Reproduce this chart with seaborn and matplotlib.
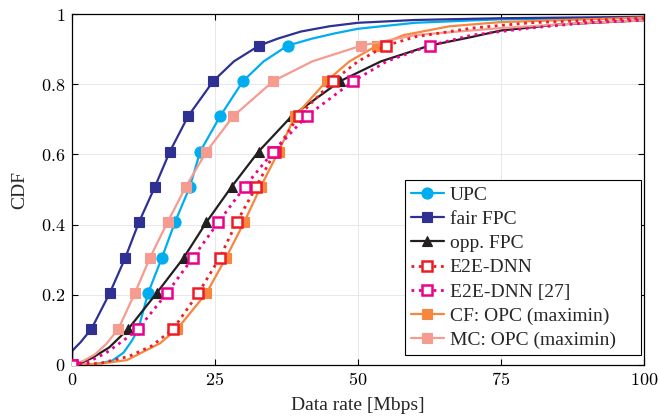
import numpy as np
import pandas as pd
import matplotlib
matplotlib.use("Agg")
import matplotlib.pyplot as plt
import seaborn as sns

sns.set_style("ticks")
plt.rcParams['font.family'] = ['Liberation Serif', 'DejaVu Serif']
plt.rcParams['mathtext.fontset'] = 'cm'

# CDF levels where markers are drawn
marker_levels = [0.0, 0.103, 0.205, 0.305, 0.407, 0.508, 0.608, 0.709, 0.809, 0.91]

# Data rate [Mbps] at marker levels
upc_x = [0, 11.6, 13.3, 15.7, 18.0, 20.6, 22.4, 25.9, 29.9, 37.7]
fair_x = [0, 3.4, 6.6, 9.3, 11.7, 14.5, 17.1, 20.3, 24.7, 32.7]
opp_x = [0, 9.85, 14.8, 19.5, 23.5, 27.9, 32.6, 38.4, 46.9, 62.5]
e2e_x = [0, 17.7, 22.1, 25.8, 28.8, 32.2, 35.5, 39.6, 45.6, 54.9]
e2e27_x = [0, 11.6, 16.6, 21.1, 25.6, 30.2, 35.2, 41.0, 49.2, 62.5]
cf_x = [0, 18.4, 23.5, 26.9, 30.1, 33.0, 36.1, 39.0, 44.5, 53.3]
mc_x = [0, 8.1, 11.0, 13.6, 16.7, 19.9, 23.5, 28.2, 35.2, 50.6]

# extra curve points (rate, CDF) between/after the markers
upc_extra = ([4, 7, 9, 10.5, 33.5, 42, 46, 50, 60, 75, 100],
             [0.002, 0.012, 0.035, 0.07, 0.865, 0.93, 0.945, 0.958, 0.975, 0.985, 0.99])
fair_extra = ([0.05, 0.6, 1.5, 2.5, 28.3, 36, 40, 45, 50, 60, 75, 100],
              [0.04, 0.05, 0.065, 0.085, 0.865, 0.93, 0.95, 0.965, 0.975, 0.983, 0.988, 0.992])
opp_extra = ([1.5, 3.5, 6.5, 54, 70, 75, 85, 100],
             [0.005, 0.02, 0.05, 0.865, 0.935, 0.953, 0.97, 0.982])
e2e_extra = ([5, 10, 14, 50, 60, 70, 80, 100],
             [0.005, 0.025, 0.055, 0.865, 0.935, 0.96, 0.975, 0.988])
e2e27_extra = ([3, 6, 9, 55, 70, 80, 90, 100],
               [0.01, 0.035, 0.07, 0.865, 0.94, 0.96, 0.975, 0.983])
cf_extra = ([5, 9.6, 15.4, 48.5, 58, 66, 75, 100],
            [0.004, 0.014, 0.062, 0.865, 0.94, 0.965, 0.977, 0.99])
mc_extra = ([2, 4, 6, 42, 60, 75, 90, 100],
            [0.012, 0.03, 0.06, 0.865, 0.94, 0.96, 0.975, 0.982])

series = [
    ("UPC", upc_x, upc_extra, "#00AEEF", "-", "o", True, 8, 2),
    ("fair FPC", fair_x, fair_extra, "#2E3192", "-", "s", True, 7.5, 2),
    ("opp. FPC", opp_x, opp_extra, "#231F20", "-", "^", True, 7.5, 2),
    ("E2E-DNN", e2e_x, e2e_extra, "#ED1C24", ":", "s", False, 7, 4),
    ("E2E-DNN [27]", e2e27_x, e2e27_extra, "#EC008C", ":", "s", False, 7, 4),
    ("CF: OPC (maximin)", cf_x, cf_extra, "#F7863E", "-", "s", True, 7.5, 3),
    ("MC: OPC (maximin)", mc_x, mc_extra, "#F69B90", "-", "s", True, 7.5, 3),
]

fig = plt.figure(figsize=(6.59, 4.18), dpi=100)
ax = fig.add_axes([0.1093, 0.1268, 0.8680, 0.8397])

for name, mx, extra, col, ls, mk, filled, ms, z in series:
    pts = [(x, y, True) for x, y in zip(mx, marker_levels)]
    pts += [(x, y, False) for x, y in zip(extra[0], extra[1])]
    pts.sort(key=lambda p: (p[1], p[0]))
    df = pd.DataFrame({"x": [p[0] for p in pts], "y": [p[1] for p in pts]})
    idx = [i for i, p in enumerate(pts) if p[2]]
    sns.lineplot(data=df, x="x", y="y", ax=ax, sort=False, estimator=None,
                 color=col, linestyle=ls, linewidth=1.6 if ls == "-" else 2.0,
                 marker=mk, markevery=idx, markersize=ms,
                 mfc=col if filled else "white", mec=col,
                 mew=0.8 if filled else 1.8, label=name, zorder=z)

ax.set_xlim(0, 100)
ax.set_ylim(0, 1)
xt = [0, 25, 50, 75, 100]
yt = [0, 0.2, 0.4, 0.6, 0.8, 1]
ax.set_xticks(xt)
ax.set_xticklabels([f"${v}$" for v in xt])
ax.set_yticks(yt)
ax.set_yticklabels(["$0$", "$0.2$", "$0.4$", "$0.6$", "$0.8$", "$1$"])
ax.grid(True, color="#e8e8e8", linewidth=0.7)
ax.set_axisbelow(True)
ax.tick_params(direction="in", top=True, right=True, length=4, width=0.8,
               labelsize=13, colors="black", pad=5)
for s in ax.spines.values():
    s.set_visible(True)
    s.set_color("black")
    s.set_linewidth(0.9)
ax.set_xlabel("Data rate [Mbps]", fontsize=14, labelpad=6)
ax.set_ylabel("CDF", fontsize=14, labelpad=9)

leg = ax.legend(loc="lower left", bbox_to_anchor=(0.582, 0.0285, 0.4126, 0.0),
                mode="expand", fontsize=14,
                fancybox=False, framealpha=1, edgecolor="black",
                handlelength=1.7, handletextpad=0.3, borderpad=0.3,
                labelspacing=0.34, borderaxespad=0.0)
leg.get_frame().set_linewidth(0.8)

fig.savefig("out.png", dpi=100)
